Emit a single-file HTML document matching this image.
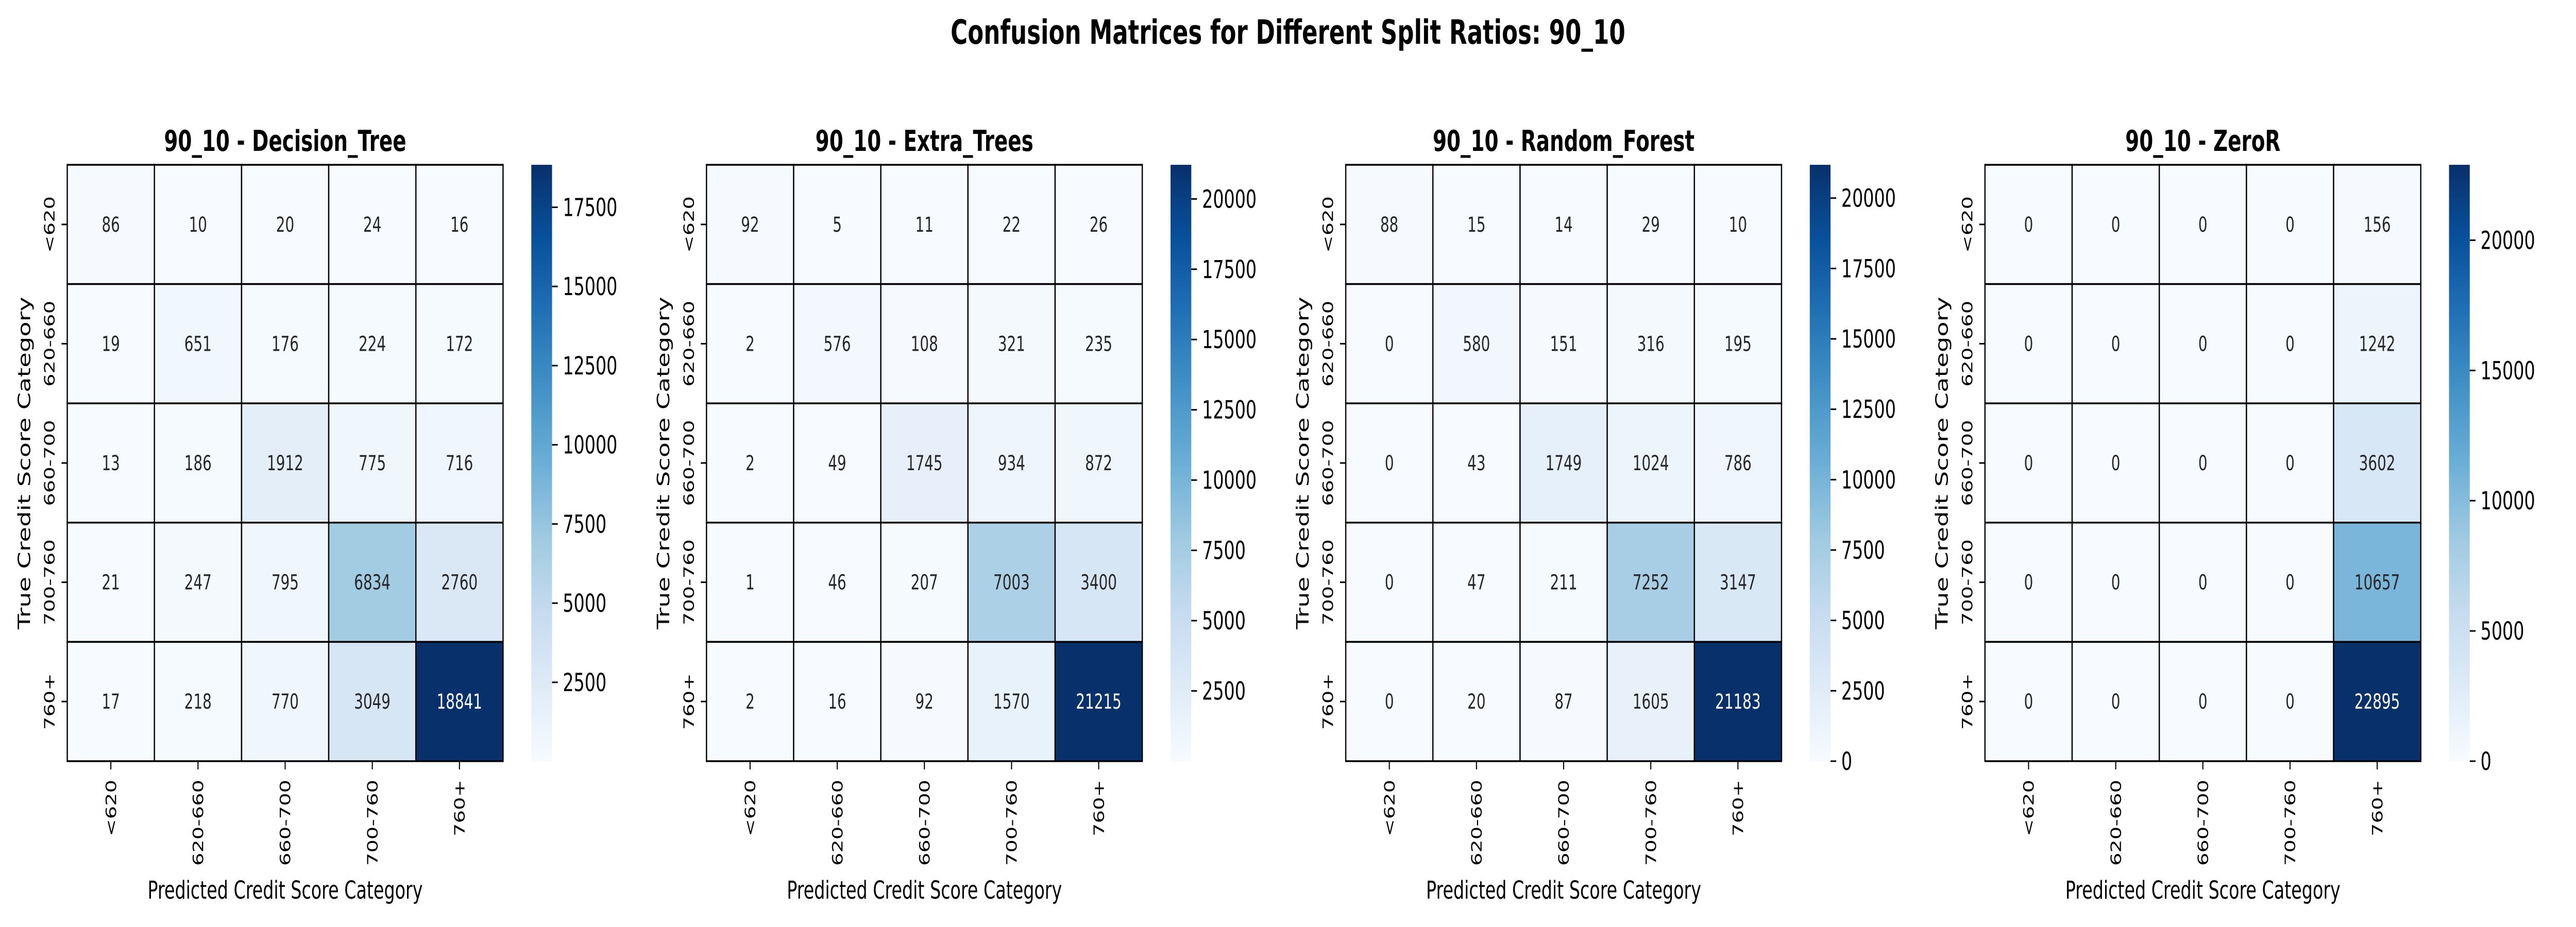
<!DOCTYPE html>
<html><head><meta charset="utf-8"><style>
html,body{margin:0;padding:0;background:#fff;width:100vw;height:100vh;overflow:hidden;}
svg{display:block;width:100vw;height:100vh;font-family:"DejaVu Sans","Liberation Sans",sans-serif;}
</style></head><body>
<svg id="fig" viewBox="0 0 7200 1800" preserveAspectRatio="none" xmlns="http://www.w3.org/2000/svg">
<rect x="0" y="0" width="7200" height="1800" fill="#fff"/>
<text x="3600" y="85" text-anchor="middle" font-size="65" font-weight="bold">Confusion Matrices for Different Split Ratios: 90_10</text>
</svg>
<script>
const categories = ["<620","620-660","660-700","700-760","760+"];
const modelNames = ["Decision_Tree","Extra_Trees","Random_Forest","ZeroR"];
const dtValues = [[86,10,20,24,16],[19,651,176,224,172],[13,186,1912,775,716],[21,247,795,6834,2760],[17,218,770,3049,18841]];
const etValues = [[92,5,11,22,26],[2,576,108,321,235],[2,49,1745,934,872],[1,46,207,7003,3400],[2,16,92,1570,21215]];
const rfValues = [[88,15,14,29,10],[0,580,151,316,195],[0,43,1749,1024,786],[0,47,211,7252,3147],[0,20,87,1605,21183]];
const zrValues = [[0,0,0,0,156],[0,0,0,0,1242],[0,0,0,0,3602],[0,0,0,0,10657],[0,0,0,0,22895]];
const dtTicks = [2500,5000,7500,10000,12500,15000,17500];
const etTicks = [2500,5000,7500,10000,12500,15000,17500,20000];
const rfTicks = [0,2500,5000,7500,10000,12500,15000,17500,20000];
const zrTicks = [0,5000,10000,15000,20000];

const matrices = [dtValues, etValues, rfValues, zrValues];
const tickSets = [dtTicks, etTicks, rfTicks, zrTicks];

(function(){
const NS = "http://www.w3.org/2000/svg";
const svg = document.getElementById("fig");
const blues = ["#f7fbff","#deebf7","#c6dbef","#9ecae1","#6baed6","#4292c6","#2171b5","#08519c","#08306b"];
function hex(c){return [parseInt(c.substr(1,2),16),parseInt(c.substr(3,2),16),parseInt(c.substr(5,2),16)];}
function cmap(t){
  t=Math.max(0,Math.min(1,t));
  const p=t*(blues.length-1), i=Math.min(Math.floor(p),blues.length-2), f=p-i;
  const a=hex(blues[i]), b=hex(blues[i+1]);
  return a.map((v,k)=>Math.round(v+(b[k]-v)*f));
}
function rgb(c){return "rgb("+c.join(",")+")";}
function lum(c){
  const l=c.map(v=>{v/=255;return v<=0.03928?v/12.92:Math.pow((v+0.055)/1.055,2.4);});
  return 0.2126*l[0]+0.7152*l[1]+0.0722*l[2];
}
function el(tag, attrs, parent){
  const e=document.createElementNS(NS,tag);
  for(const k in attrs) e.setAttribute(k, attrs[k]);
  (parent||svg).appendChild(e);
  return e;
}

const panelLeft0 = 188, panelStep = 1786.7, hmW = 1218, hmTop = 320, hmBottom = 1478;
const cellW = hmW/5, cellH = (hmBottom-hmTop)/5;

matrices.forEach((M, p) => {
  const left = panelLeft0 + p*panelStep;
  const flat = M.flat();
  const vmin = Math.min(...flat), vmax = Math.max(...flat);
  const xScale = j => left + j*cellW;
  const yScale = i => hmTop + i*cellH;
  const cScale = v => (v - vmin)/(vmax - vmin);

  const g = el("g", {});
  
  

  const t = el("text", {x:left+hmW/2, y:293, "text-anchor":"middle", "font-size":"56", "font-weight":"bold"}, g);
  t.textContent = "90_10 - " + modelNames[p];
  
  

  M.forEach((row, i) => row.forEach((v, j) => {
    const c = cmap(cScale(v));
    const r = el("rect", {x:xScale(j), y:yScale(i), width:cellW, height:cellH, fill:rgb(c), stroke:"#000", "stroke-width":"3.5"}, g);
    
    
    const tx = el("text", {x:xScale(j)+cellW/2, y:yScale(i)+cellH/2+14, "text-anchor":"middle", "font-size":"40", fill: lum(c) < 0.408 ? "#ffffff" : "#262626"}, g);
    tx.textContent = v;
    
    
  }));

  categories.forEach((cat, k) => {
    const cy = yScale(k)+cellH/2;
    el("line", {x1:left-16, x2:left, y1:cy, y2:cy, stroke:"#000", "stroke-width":"3"}, g);
    const yl = el("text", {transform:"translate("+(left-36)+","+cy+") rotate(-90)", "text-anchor":"middle", "font-size":"40"}, g);
    yl.textContent = cat;
    
    
    const cx = xScale(k)+cellW/2;
    el("line", {x1:cx, x2:cx, y1:hmBottom, y2:hmBottom+16, stroke:"#000", "stroke-width":"3"}, g);
    const xl = el("text", {transform:"translate("+(cx+14)+","+(hmBottom+36)+") rotate(-90)", "text-anchor":"end", "font-size":"40"}, g);
    xl.textContent = cat;
    
    
  });

  const xt = el("text", {x:left+hmW/2, y:1745, "text-anchor":"middle", "font-size":"48"}, g);
  xt.textContent = "Predicted Credit Score Category";
  
  
  const yt = el("text", {transform:"translate("+(left-104)+","+((hmTop+hmBottom)/2)+") rotate(-90)", "text-anchor":"middle", "font-size":"48"}, g);
  yt.textContent = "True Credit Score Category";
  
  

  const cbx = left + 1297, cbw = 58;
  const gid = "cbgrad" + p;
  const defs = el("defs", {}, g);
  const lg = el("linearGradient", {id:gid, x1:"0", y1:"1", x2:"0", y2:"0"}, defs);
  for (let s=0; s<=16; s++) el("stop", {offset:(s/16), "stop-color":rgb(cmap(s/16))}, lg);
  const cb = el("rect", {x:cbx, y:hmTop, width:cbw, height:hmBottom-hmTop, fill:"url(#"+gid+")"}, g);
  
  
  const cbY = v => hmBottom - cScale(v)*(hmBottom-hmTop);
  tickSets[p].forEach(tv => {
    const yy = cbY(tv);
    el("line", {x1:cbx+cbw, x2:cbx+cbw+16, y1:yy, y2:yy, stroke:"#000", "stroke-width":"3"}, g);
    const lt = el("text", {x:cbx+cbw+30, y:yy+17, "font-size":"48"}, g);
    lt.textContent = tv;
    
    
  });
});
})();
</script>
</body></html>
